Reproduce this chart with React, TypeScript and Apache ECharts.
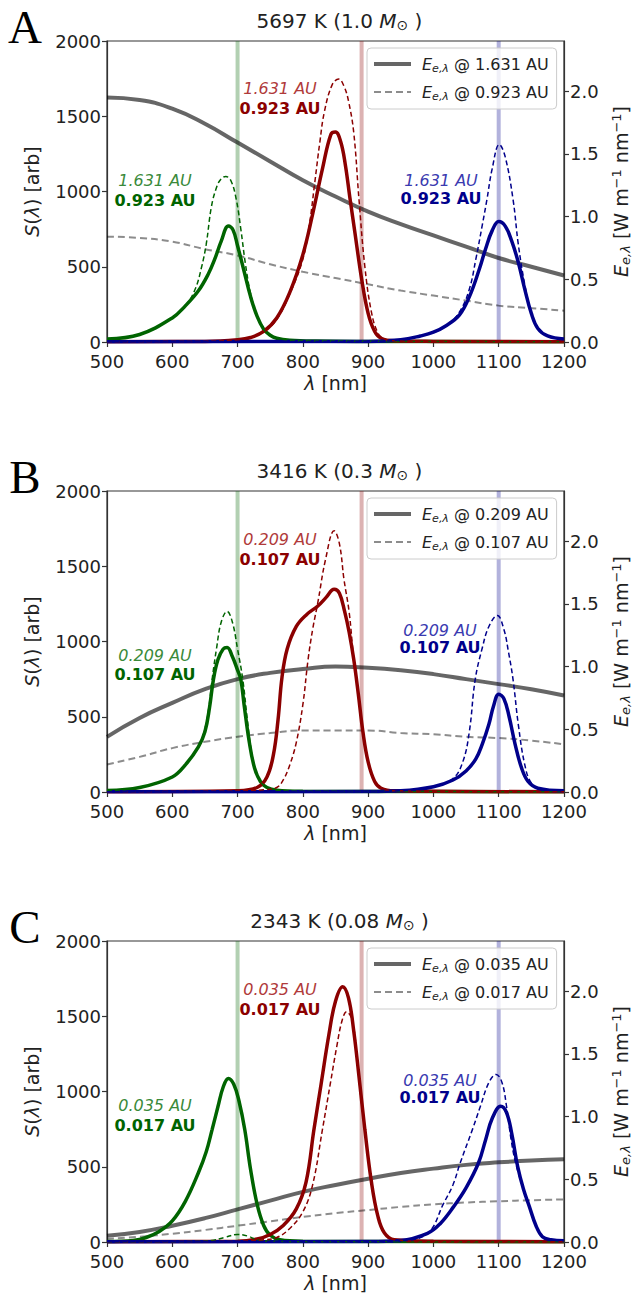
import React, { useEffect, useRef } from 'react';
import * as echarts from 'echarts';

// ---------------- data ----------------
const X_MIN = 500;
const X_MAX = 1200;
const S_MAX = 2000;
const E_MAX = 2.4;
const E_TICKS = [0, 0.5, 1.0, 1.5, 2.0];
const FILTER_CENTERS = [700, 890, 1100];

const PANEL_LETTERS = ['A', 'B', 'C'];
const TEMPS = ['5697', '3416', '2343'];
const MASSES = ['1.0', '0.3', '0.08'];
const FAR_AU = ['1.631', '0.209', '0.035'];
const NEAR_AU = ['0.923', '0.107', '0.017'];

const E_GRID = [500, 550, 600, 650, 700, 750, 800, 850, 900, 950, 1000, 1050, 1100, 1150, 1200];

// irradiance (right axis, W m^-1 nm^-1)
const eFarA = [1.95, 1.93, 1.86, 1.74, 1.59, 1.44, 1.29, 1.16, 1.04, 0.94, 0.85, 0.76, 0.67, 0.6, 0.53];
const eNearA = [0.84, 0.83, 0.8, 0.74, 0.69, 0.62, 0.56, 0.51, 0.46, 0.41, 0.37, 0.33, 0.29, 0.27, 0.25];
const eFarB = [0.44, 0.59, 0.71, 0.82, 0.9, 0.95, 0.98, 1.0, 0.99, 0.97, 0.94, 0.9, 0.86, 0.82, 0.77];
const eNearB = [0.22, 0.28, 0.35, 0.4, 0.44, 0.47, 0.49, 0.49, 0.49, 0.47, 0.46, 0.44, 0.43, 0.41, 0.38];
const eFarC = [0.05, 0.08, 0.13, 0.19, 0.26, 0.33, 0.4, 0.455, 0.505, 0.55, 0.585, 0.615, 0.635, 0.65, 0.66];
const eNearC = [0.024, 0.042, 0.066, 0.096, 0.13, 0.165, 0.2, 0.23, 0.255, 0.28, 0.3, 0.315, 0.325, 0.333, 0.34];

// signal S(lambda) [arb] (left axis): [wavelength, value]
const greenFarA = [[500, 20], [550, 50], [600, 160], [620, 240], [640, 340], [655, 450], [665, 550], [675, 670], [686, 770], [693, 745], [700, 640], [710, 470], [720, 300], [730, 170], [740, 85], [750, 45], [760, 25], [780, 12], [820, 6], [900, 4], [1200, 2]];
const greenNearA = [[500, 20], [550, 50], [600, 160], [620, 240], [635, 350], [645, 500], [652, 650], [660, 900], [668, 1030], [675, 1085], [682, 1100], [690, 1070], [698, 947], [705, 750], [712, 520], [720, 320], [730, 170], [740, 85], [750, 45], [760, 25], [800, 8], [1200, 2]];
const redFarA = [[500, 2], [650, 4], [700, 15], [720, 30], [740, 70], [760, 160], [780, 330], [800, 580], [815, 850], [830, 1150], [843, 1380], [850, 1395], [858, 1330], [865, 1180], [872, 960], [880, 720], [890, 420], [900, 190], [910, 70], [920, 25], [940, 8], [1000, 4], [1200, 2]];
const redNearA = [[500, 2], [650, 4], [700, 15], [720, 30], [740, 70], [760, 150], [780, 320], [800, 550], [810, 780], [818, 1050], [826, 1327], [833, 1530], [845, 1710], [855, 1747], [863, 1700], [870, 1600], [878, 1390], [886, 947], [895, 500], [905, 200], [915, 60], [925, 20], [940, 8], [1000, 4], [1200, 2]];
const blueFarA = [[500, 2], [900, 4], [950, 15], [980, 40], [1000, 65], [1020, 110], [1040, 180], [1055, 300], [1070, 480], [1080, 620], [1090, 740], [1100, 800], [1110, 770], [1120, 670], [1130, 530], [1140, 350], [1150, 190], [1160, 90], [1175, 40], [1200, 20]];
const blueNearA = [[500, 2], [900, 4], [950, 15], [1000, 65], [1020, 110], [1040, 200], [1055, 350], [1065, 550], [1075, 780], [1082, 947], [1090, 1150], [1101, 1313], [1110, 1230], [1122, 947], [1130, 650], [1140, 380], [1150, 190], [1160, 90], [1175, 40], [1200, 20]];

const greenFarB = [[500, 10], [550, 30], [600, 100], [620, 180], [640, 300], [650, 400], [657, 560], [663, 747], [670, 880], [678, 950], [684, 960], [692, 900], [700, 810], [705, 747], [710, 580], [718, 330], [726, 160], [735, 70], [745, 30], [760, 12], [800, 5], [1200, 2]];
const greenNearB = [[500, 10], [550, 30], [600, 100], [620, 180], [640, 300], [650, 420], [656, 560], [661, 747], [668, 960], [675, 1130], [684, 1200], [692, 1130], [700, 950], [708, 747], [715, 480], [722, 250], [730, 110], [740, 45], [760, 12], [800, 5], [1200, 2]];
const redFarB = [[500, 2], [700, 8], [730, 30], [745, 100], [755, 250], [762, 480], [768, 760], [776, 950], [790, 1100], [806, 1180], [823, 1236], [835, 1290], [848, 1347], [856, 1320], [864, 1200], [871, 1060], [878, 880], [885, 650], [892, 400], [900, 200], [910, 70], [920, 25], [940, 8], [1200, 2]];
const redNearB = [[500, 2], [700, 6], [740, 15], [760, 30], [770, 80], [780, 180], [790, 330], [800, 580], [808, 880], [815, 1080], [823, 1260], [835, 1550], [848, 1736], [856, 1650], [863, 1413], [871, 1193], [878, 880], [885, 650], [892, 400], [900, 200], [910, 70], [920, 25], [940, 8], [1200, 2]];
const blueFarB = [[500, 2], [900, 3], [950, 8], [1000, 35], [1030, 80], [1050, 140], [1065, 220], [1075, 320], [1085, 450], [1092, 570], [1100, 650], [1108, 620], [1116, 500], [1125, 320], [1135, 160], [1145, 70], [1160, 25], [1200, 8]];
const blueNearB = [[500, 2], [900, 3], [950, 8], [1000, 35], [1030, 90], [1045, 200], [1055, 400], [1064, 747], [1075, 960], [1085, 1100], [1098, 1173], [1108, 1080], [1115, 930], [1122, 747], [1130, 450], [1140, 180], [1150, 60], [1165, 20], [1200, 8]];

const greenFarC = [[500, 3], [540, 10], [560, 30], [580, 70], [600, 140], [620, 270], [640, 460], [652, 600], [661, 747], [670, 900], [678, 1030], [686, 1087], [694, 1050], [702, 940], [711, 747], [720, 480], [730, 250], [740, 110], [750, 45], [765, 15], [800, 5], [1200, 2]];
const greenNearC = [[500, 0], [640, 3], [660, 10], [680, 30], [700, 50], [715, 40], [730, 15], [750, 5], [800, 2], [1200, 0]];
const redFarC = [[500, 2], [700, 5], [730, 20], [750, 50], [770, 110], [790, 220], [805, 400], [817, 747], [828, 1050], [840, 1380], [850, 1600], [861, 1696], [870, 1620], [878, 1400], [886, 1100], [895, 747], [905, 400], [915, 170], [925, 60], [940, 15], [1000, 5], [1200, 2]];
const redNearC = [[500, 2], [700, 4], [740, 15], [760, 30], [780, 90], [800, 200], [815, 380], [830, 747], [842, 1050], [852, 1300], [860, 1470], [867, 1530], [875, 1480], [882, 1280], [888, 1000], [895, 747], [905, 400], [915, 170], [925, 60], [940, 15], [1000, 5], [1200, 2]];
const blueFarC = [[500, 2], [900, 3], [950, 10], [991, 58], [1010, 120], [1031, 235], [1050, 360], [1069, 525], [1080, 680], [1090, 820], [1103, 902], [1112, 860], [1120, 720], [1129, 502], [1138, 350], [1147, 235], [1157, 110], [1167, 35], [1180, 15], [1200, 8]];
const blueNearC = [[500, 2], [900, 3], [950, 10], [991, 58], [1016, 260], [1030, 380], [1041, 525], [1060, 750], [1072, 902], [1085, 1060], [1096, 1113], [1105, 1060], [1112, 902], [1119, 680], [1126, 525], [1138, 350], [1147, 235], [1157, 110], [1167, 35], [1180, 15], [1200, 8]];

const E_FAR = [eFarA, eFarB, eFarC];
const E_NEAR = [eNearA, eNearB, eNearC];
const S_SERIES = [
  [greenFarA, greenNearA, redFarA, redNearA, blueFarA, blueNearA],
  [greenFarB, greenNearB, redFarB, redNearB, blueFarB, blueNearB],
  [greenFarC, greenNearC, redFarC, redNearC, blueFarC, blueNearC],
];

// ---------------- styling / layout ----------------
const FONT = 'DejaVu Sans';
const GREEN = '#006400';
const RED = '#8b0000';
const BLUE = '#00008b';
const BAND_COLORS = [GREEN, RED, BLUE];
const ITALIC_COLORS = ['#3a8a3a', '#b03a3a', '#3a3ab0'];
const TOPS = [41, 491, 941];
const PLOT_LEFT = 107;
const PLOT_RIGHT = 572;
const PLOT_H = 301;
// label positions (relative to panel top): [x, yItalic, yBold] per colour band
const LABEL_POS = [
  [[155, 139, 159], [280, 47, 67], [441, 139, 157]],
  [[155, 164, 183], [280, 48, 68], [440, 139, 156]],
  [[155, 164, 184], [280, 48, 68], [440, 139, 156]],
];

const subRich = {
  gap: { width: 6 },
  i: { fontStyle: 'italic', fontFamily: FONT, fontSize: 16 },
  sub: { fontSize: 11, fontFamily: FONT, fontStyle: 'italic', padding: [8, 0, 0, 0] },
};

function buildOption() {
  const grid: any[] = [];
  const xAxis: any[] = [];
  const yAxis: any[] = [];
  const series: any[] = [];
  const legend: any[] = [];
  const graphic: any[] = [];

  for (let k = 0; k < 3; k++) {
    const top = TOPS[k];
    grid.push({
      left: PLOT_LEFT,
      width: PLOT_RIGHT - PLOT_LEFT,
      top,
      height: PLOT_H,
      show: true,
      borderColor: '#333',
      borderWidth: 1.2,
      backgroundColor: 'transparent',
    });
    const axisLine = { show: true, lineStyle: { color: '#333', width: 1.2 } };
    const axisTick = { show: true, length: 5, lineStyle: { color: '#333', width: 1.2 } };
    const axisLabel = { fontSize: 18, fontFamily: FONT, color: '#222', margin: 6, formatter: (v: number) => String(v) };
    xAxis.push({
      type: 'value',
      gridIndex: k,
      min: X_MIN,
      max: X_MAX,
      interval: 100,
      axisLine,
      axisTick,
      axisLabel: { ...axisLabel, margin: 10 },
      splitLine: { show: false },
      name: '{i|λ} [nm]',
      nameLocation: 'middle',
      nameGap: 31,
      nameTextStyle: { fontSize: 19, fontFamily: FONT, color: '#222', rich: { i: { fontStyle: 'italic', fontSize: 19, fontFamily: FONT } } },
    });
    yAxis.push({
      type: 'value',
      gridIndex: k,
      min: 0,
      max: S_MAX,
      interval: 500,
      axisLine,
      axisTick,
      axisLabel,
      splitLine: { show: false },
      name: '{i|S}({i|λ}) [arb]',
      nameLocation: 'middle',
      nameGap: 66,
      nameRotate: 90,
      nameTextStyle: { fontSize: 19, fontFamily: FONT, color: '#222', rich: { i: { fontStyle: 'italic', fontSize: 19, fontFamily: FONT } } },
    });
    yAxis.push({
      type: 'value',
      gridIndex: k,
      position: 'right',
      min: 0,
      max: E_MAX,
      axisLine,
      axisTick: { ...axisTick, customValues: E_TICKS },
      axisLabel: { ...axisLabel, customValues: E_TICKS, formatter: (v: number) => v.toFixed(1) },
      splitLine: { show: false },
      name: '{i|E}{sub|e,λ} [W m{sup|−1} nm{sup|−1}]',
      nameLocation: 'middle',
      nameGap: 44,
      nameRotate: 90,
      nameTextStyle: {
        fontSize: 19,
        fontFamily: FONT,
        color: '#222',
        rich: {
          i: { fontStyle: 'italic', fontSize: 19, fontFamily: FONT },
          sub: { fontSize: 13, fontStyle: 'italic', fontFamily: FONT, padding: [9, 0, 0, 0] },
          sup: { fontSize: 13, fontFamily: FONT, padding: [0, 0, 10, 0] },
        },
      },
    });
    const yL = 2 * k;
    const yR = 2 * k + 1;

    // filter band markers
    FILTER_CENTERS.forEach((c, j) => {
      series.push({
        type: 'line',
        xAxisIndex: k,
        yAxisIndex: yL,
        data: [[c, 0], [c, S_MAX]],
        symbol: 'none',
        silent: true,
        lineStyle: { color: BAND_COLORS[j], width: 4, opacity: 0.3 },
        z: 1,
      });
    });

    const farName = 'E @ ' + FAR_AU[k] + ' AU';
    const nearName = 'E @ ' + NEAR_AU[k] + ' AU';
    series.push({
      name: farName,
      type: 'line',
      xAxisIndex: k,
      yAxisIndex: yR,
      data: E_GRID.map((x, i) => [x, E_FAR[k][i]]),
      symbol: 'none',
      smooth: 0.5,
      lineStyle: { color: 'rgba(0,0,0,0.6)', width: 4 },
      itemStyle: { color: 'rgba(0,0,0,0.6)' },
      z: 2,
    });
    series.push({
      name: nearName,
      type: 'line',
      xAxisIndex: k,
      yAxisIndex: yR,
      data: E_GRID.map((x, i) => [x, E_NEAR[k][i]]),
      symbol: 'none',
      smooth: 0.5,
      lineStyle: { color: 'rgba(0,0,0,0.45)', width: 2, type: [7, 4] },
      itemStyle: { color: 'rgba(0,0,0,0.45)' },
      z: 2,
    });

    const S = S_SERIES[k];
    for (let j = 0; j < 3; j++) {
      const col = BAND_COLORS[j];
      series.push({
        type: 'line',
        xAxisIndex: k,
        yAxisIndex: yL,
        data: S[2 * j],
        symbol: 'none',
        smooth: 0.4,
        lineStyle: { color: col, width: 3.5 },
        z: 3,
      });
      series.push({
        type: 'line',
        xAxisIndex: k,
        yAxisIndex: yL,
        data: S[2 * j + 1],
        symbol: 'none',
        smooth: 0.4,
        lineStyle: { color: col, width: 1.5, type: [5, 3] },
        z: 4,
      });
    }

    legend.push({
      data: [farName, nearName],
      orient: 'vertical',
      left: 367,
      top: top + 7,
      itemWidth: 37,
      itemHeight: 14,
      itemGap: 8,
      padding: [6, 8, 7, 5],
      backgroundColor: 'rgba(255,255,255,0.8)',
      borderColor: '#cccccc',
      borderWidth: 1,
      borderRadius: 4,
      selectedMode: false,
      itemStyle: { opacity: 0 },
      lineStyle: { width: 'inherit', type: 'inherit', color: 'inherit' },
      textStyle: { fontSize: 16, fontFamily: FONT, color: '#222', lineHeight: 20, rich: subRich },
      formatter: (name: string) => '{gap|}{i|E}{sub|e,λ} @ ' + name.slice(4),
    });

    // panel letter
    graphic.push({
      type: 'text',
      x: 25,
      y: top - 14,
      style: {
        text: PANEL_LETTERS[k],
        fontSize: 47,
        fontFamily: 'Liberation Serif',
        fill: '#000',
        align: 'center',
        verticalAlign: 'middle',
      },
    });
    // title
    graphic.push({
      type: 'text',
      x: (PLOT_LEFT + PLOT_RIGHT) / 2,
      y: top - 20,
      style: {
        text: TEMPS[k] + ' K (' + MASSES[k] + ' {i|M}{subu|⊙} )',
        fontSize: 20,
        fontFamily: FONT,
        fill: '#222',
        align: 'center',
        verticalAlign: 'middle',
        rich: {
          i: { fontStyle: 'italic', fontSize: 20, fontFamily: FONT },
          subu: { fontSize: 14, fontFamily: FONT, padding: [8, 0, 0, 0] },
        },
      },
    });
    // distance labels
    for (let j = 0; j < 3; j++) {
      const [lx, ly1, ly2] = LABEL_POS[k][j];
      graphic.push({
        type: 'text',
        x: lx,
        y: top + ly1,
        z: 10,
        style: {
          text: FAR_AU[k] + ' AU',
          fontSize: 16,
          fontFamily: FONT,
          fontStyle: 'italic',
          fill: ITALIC_COLORS[j],
          align: 'center',
          verticalAlign: 'middle',
        },
      });
      graphic.push({
        type: 'text',
        x: lx,
        y: top + ly2,
        z: 10,
        style: {
          text: NEAR_AU[k] + ' AU',
          fontSize: 16,
          fontFamily: FONT,
          fontWeight: 'bold',
          fill: BAND_COLORS[j],
          align: 'center',
          verticalAlign: 'middle',
        },
      });
    }
  }

  return { animation: false, backgroundColor: '#fff', grid, xAxis, yAxis, series, legend, graphic };
}

export default function App() {
  const ref = useRef<HTMLDivElement>(null);
  useEffect(() => {
    document.body.style.margin = '0';
    const chart = echarts.init(ref.current!, undefined, { renderer: 'svg' });
    chart.setOption(buildOption() as any);
    return () => chart.dispose();
  }, []);
  return <div ref={ref} style={{ width: 640, height: 1301 }} />;
}
